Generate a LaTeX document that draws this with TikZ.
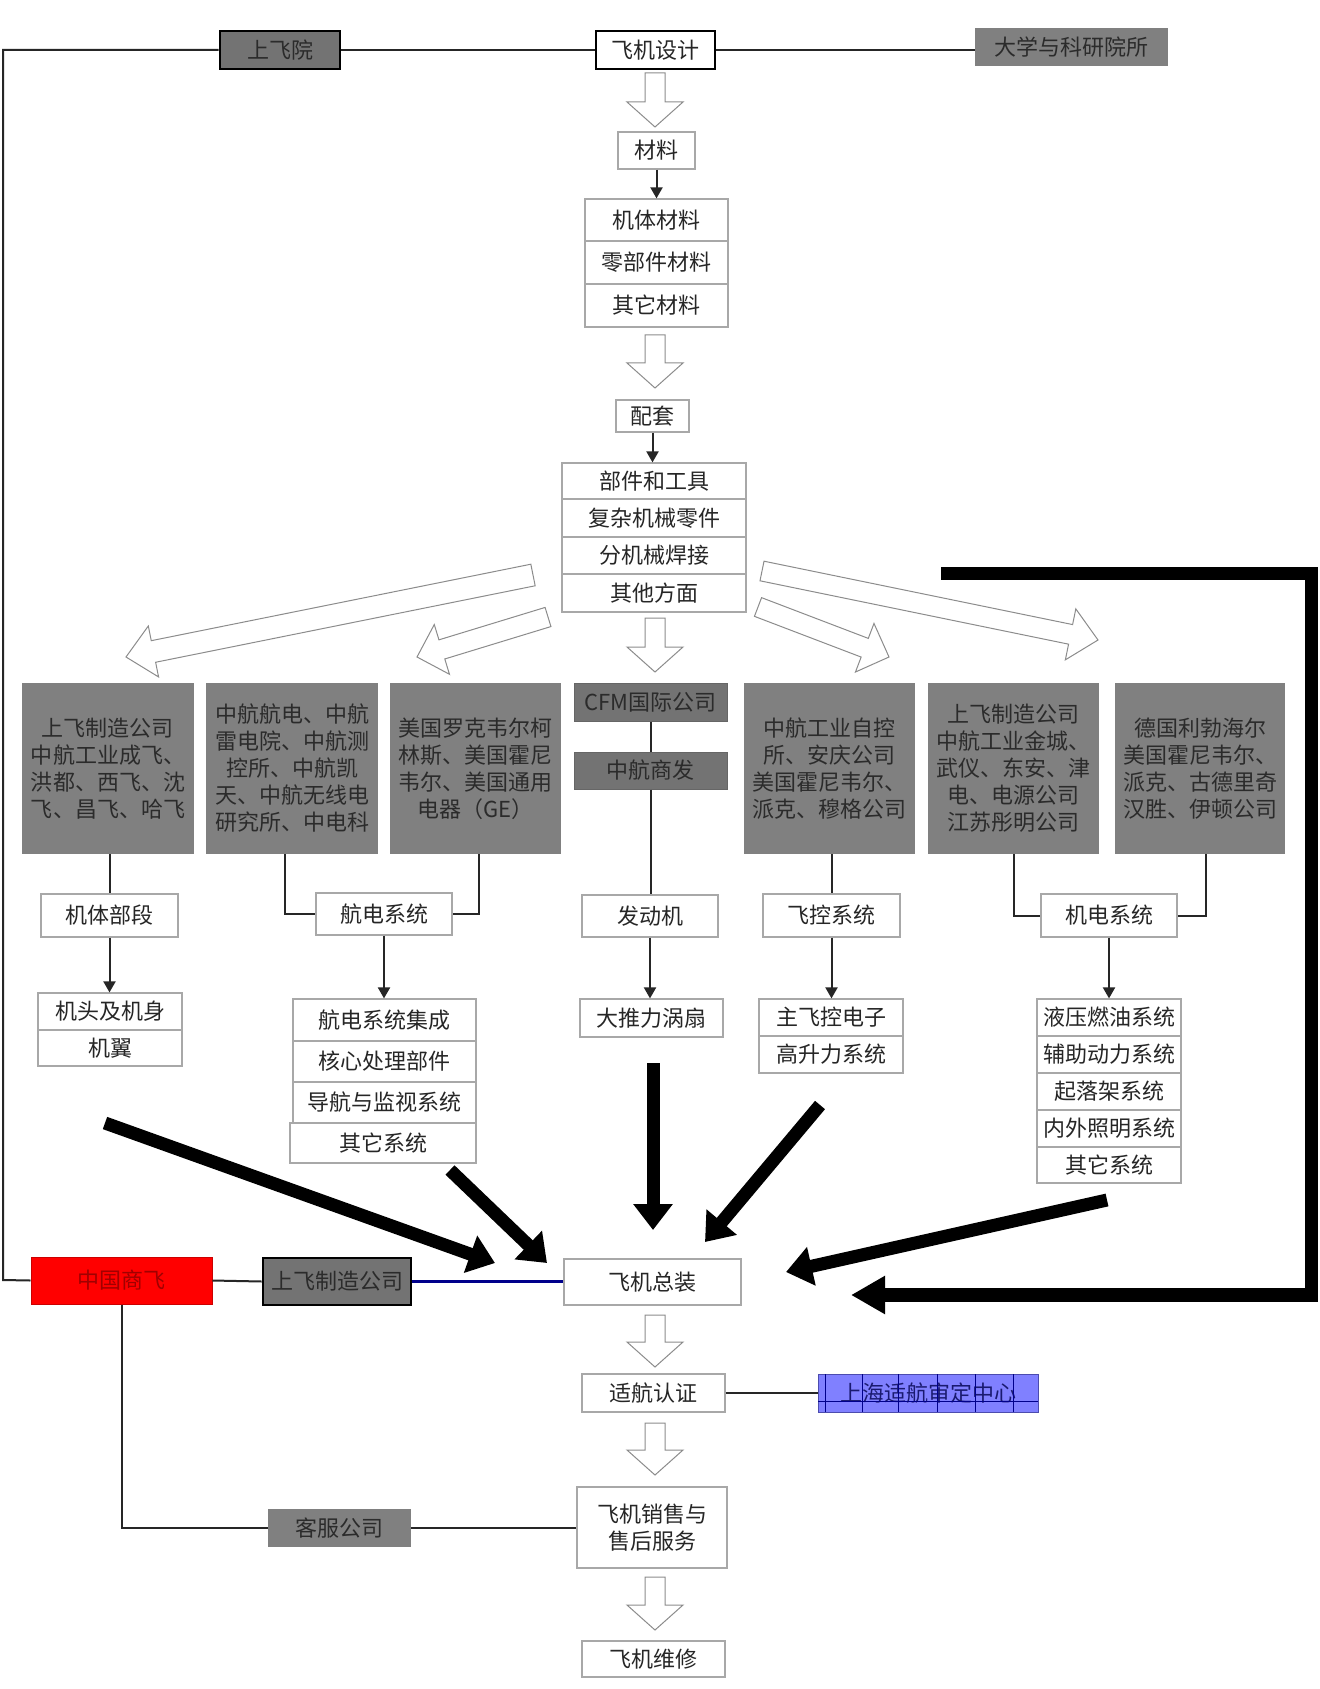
\documentclass[tikz,border=0pt]{standalone}
\usepackage{fontspec}
\setmainfont{Noto Sans CJK SC}
\usetikzlibrary{arrows.meta,calc}
\definecolor{lgray}{HTML}{A8A8A8}
\definecolor{txt}{HTML}{262626}
\definecolor{gfill}{HTML}{808080}
\definecolor{gtxt}{HTML}{2B2B2B}
\definecolor{dfill}{HTML}{737373}
\definecolor{rtxt}{HTML}{A00000}
\definecolor{bfill}{HTML}{8080FF}
\definecolor{btxt}{HTML}{1A1A70}
\definecolor{bline}{HTML}{00008B}
\newcommand\myfs{\fontsize{11pt}{13.5pt}\selectfont}
\newcommand\mybox[7]{%
  \pgfmathsetmacro\myw{(#4-#2)*0.5}%
  \pgfmathsetmacro\myh{(#5-#3)*0.5}%
  \node[#6, minimum width=\myw pt, minimum height=\myh pt] (#1) at ({(#2+#4)/2},{(#3+#5)/2}) {#7};}
\newcommand\myharr[5]{%
  \coordinate (hN) at ($(#2)!#5!(#1)$);
  \draw[hollow] ($(#1)!#3!90:(#2)$) -- ($(hN)!#3!90:(#2)$) -- ($(hN)!#4!90:(#2)$) -- (#2)
    -- ($(hN)!#4!-90:(#2)$) -- ($(hN)!#3!-90:(#2)$) -- ($(#1)!#3!-90:(#2)$) -- cycle;}
\begin{document}
\begin{tikzpicture}[x=0.5pt,y=-0.5pt,
  base/.style={inner sep=0pt, align=center, font=\myfs},
  wb/.style={base, draw=lgray, fill=white, line width=0.6pt, text=txt},
  db/.style={base, draw=black, fill=white, line width=1.3pt, text=txt},
  gb/.style={base, fill=gfill, text=gtxt},
  gbb/.style={base, fill=dfill, draw=black, line width=1.3pt, text=gtxt},
  gbc/.style={base, fill=dfill, draw=black!60, line width=0.5pt, text=gtxt},
  rb/.style={base, fill=red, draw=red!80!black, line width=0.5pt, text=rtxt},
  blb/.style={base, fill=bfill, draw=bline!70, line width=0.5pt, text=btxt},
  conn/.style={draw=black!85, line width=1pt},
  sarr/.style={conn, -{Triangle[width=6pt,length=5.5pt]}},
  hollow/.style={draw=black!45, fill=white, line width=0.5pt, line join=miter},
  thick arrow/.style={draw=black, line width=6.5pt, -{Triangle[width=19pt,length=13pt]}},
]
\useasboundingbox (0,0) rectangle (1320,1689);
\fill[white] (0,0) rectangle (1320,1689);

% ---------- top row ----------
\mybox{sfy}{220}{31}{340}{69}{gbb}{上飞院}
\mybox{fd}{596}{31}{715}{69}{db}{飞机设计}
\mybox{dx}{975}{28}{1168}{66}{gb}{大学与科研院所}

% ---------- materials ----------
\mybox{cl}{618}{132}{695}{169}{wb}{材料}
\mybox{m1}{585}{199}{728}{241}{wb}{机体材料}
\mybox{m2}{585}{241}{728}{284}{wb}{零部件材料}
\mybox{m3}{585}{284}{728}{327}{wb}{其它材料}

% ---------- peitao ----------
\mybox{pt}{616}{400}{689}{432}{wb}{配套}
\mybox{b1}{562}{463}{746}{499}{wb}{部件和工具}
\mybox{b2}{562}{499}{746}{537}{wb}{复杂机械零件}
\mybox{b3}{562}{537}{746}{574}{wb}{分机械焊接}
\mybox{b4}{562}{574}{746}{612}{wb}{其他方面}

% ---------- suppliers ----------
\mybox{g1}{22}{683}{194}{854}{gb}{上飞制造公司\\中航工业成飞、\\洪都、西飞、沈\\飞、昌飞、哈飞}
\mybox{g2}{206}{683}{378}{854}{gb}{中航航电、中航\\雷电院、中航测\\控所、中航凯\\天、中航无线电\\研究所、中电科}
\mybox{g3}{390}{683}{561}{854}{gb}{美国罗克韦尔柯\\林斯、美国霍尼\\韦尔、美国通用\\电器（GE）}
\mybox{cfm}{574}{683}{727}{721}{gbc}{CFM国际公司}
\mybox{zhsf}{574}{752}{727}{789}{gbc}{中航商发}
\mybox{g5}{744}{683}{915}{854}{gb}{中航工业自控\\所、安庆公司\\美国霍尼韦尔、\\派克、穆格公司}
\mybox{g6}{928}{683}{1099}{854}{gb}{上飞制造公司\\中航工业金城、\\武仪、东安、津\\电、电源公司\\江苏彤明公司}
\mybox{g7}{1115}{683}{1285}{854}{gb}{德国利勃海尔\\美国霍尼韦尔、\\派克、古德里奇\\汉胜、伊顿公司}

% ---------- systems ----------
\mybox{jt}{41}{894}{178}{937}{wb}{机体部段}
\mybox{hd}{316}{893}{452}{935}{wb}{航电系统}
\mybox{fdj}{582}{895}{718}{937}{wb}{发动机}
\mybox{fk}{763}{894}{900}{937}{wb}{飞控系统}
\mybox{jd}{1041}{894}{1177}{937}{wb}{机电系统}

\mybox{jj1}{38}{993}{182}{1030}{wb}{机头及机身}
\mybox{jj2}{38}{1030}{182}{1066}{wb}{机翼}

\mybox{h1}{293}{999}{476}{1041}{wb}{航电系统集成}
\mybox{h2}{293}{1041}{476}{1082}{wb}{核心处理部件}
\mybox{h3}{293}{1082}{476}{1123}{wb}{导航与监视系统}
\mybox{h4}{290}{1123}{476}{1163}{wb}{其它系统}

\mybox{dt}{580}{999}{723}{1037}{wb}{大推力涡扇}

\mybox{k1}{759}{999}{903}{1036}{wb}{主飞控电子}
\mybox{k2}{759}{1036}{903}{1073}{wb}{高升力系统}

\mybox{e1}{1037}{999}{1181}{1036}{wb}{液压燃油系统}
\mybox{e2}{1037}{1036}{1181}{1073}{wb}{辅助动力系统}
\mybox{e3}{1037}{1073}{1181}{1110}{wb}{起落架系统}
\mybox{e4}{1037}{1110}{1181}{1147}{wb}{内外照明系统}
\mybox{e5}{1037}{1147}{1181}{1183}{wb}{其它系统}

% ---------- assembly and after ----------
\mybox{zgsf}{31}{1257}{212}{1304}{rb}{中国商飞}
\mybox{sfzz}{263}{1258}{411}{1305}{gbb}{上飞制造公司}
\mybox{zz}{564}{1259}{741}{1305}{wb}{飞机总装}
\mybox{sh}{582}{1374}{725}{1412}{wb}{适航认证}
\mybox{shzx}{818}{1374}{1038}{1412}{blb}{上海适航审定中心}
\mybox{kf}{268}{1509}{411}{1547}{gb}{客服公司}
\mybox{xs}{577}{1487}{727}{1568}{wb}{飞机销售与\\售后服务}
\mybox{wx}{582}{1641}{725}{1677}{wb}{飞机维修}

% grid lines on blue box
\foreach \gx in {825,862,898,937,975,1013}
  \draw[bline, line width=0.5pt] (\gx,1374) -- (\gx,1412);
\draw[bline, line width=0.5pt] (818,1401) -- (1038,1401);

% ---------- thin connectors ----------
\coordinate (lc1) at (3,50);
\coordinate (lc2) at (3,1280);
\draw[conn] (sfy.west) -- (sfy.west -| lc1) -- (lc2) -- (zgsf.west);
\draw[conn] (sfy.east) -- (fd.west);
\draw[conn] (fd.east) -- (fd.east -| dx.west);
\draw[conn] (zgsf.east) -- (sfzz.west);
\draw[draw=bline, line width=1.6pt] (sfzz.east) -- (sfzz.east -| zz.west);
\coordinate (kc) at (122,1528);
\draw[conn] (kc |- zgsf.south) -- (kc) -- (kf.west);
\draw[conn] (kf.east) -- (kf.east -| xs.west);
\draw[conn] (sh.east) -- (sh.east -| shzx.west);

\draw[sarr] (cl.south) -- (cl.south |- m1.north);
\draw[sarr] (pt.south) -- (pt.south |- b1.north);

\draw[conn] (g1.south -| jt.north) -- (jt.north);
\draw[conn] ($(g2.south)+(-7,0)$) |- (hd.west);
\draw[conn] ($(g3.south)+(3,0)$) |- (hd.east);
\draw[conn] (cfm.south) -- (zhsf.north);
\draw[conn] (zhsf.south) -- (zhsf.south |- fdj.north);
\draw[conn] (g5.south -| fk.north) -- (fk.north);
\draw[conn] (g6.south) |- (jd.west);
\draw[conn] ($(g7.south)+(6,0)$) |- (jd.east);

\draw[sarr] (jt.south) -- (jt.south |- jj1.north);
\draw[sarr] (hd.south) -- (hd.south |- h1.north);
\draw[sarr] (fdj.south) -- (fdj.south |- dt.north);
\draw[sarr] (fk.south) -- (fk.south |- k1.north);
\draw[sarr] (jd.south) -- (jd.south |- e1.north);

% ---------- hollow arrows ----------
\coordinate (ha1) at (655,73);   \coordinate (hb1) at (655,127);
\coordinate (ha2) at (655,335);  \coordinate (hb2) at (655,388);
\coordinate (ha3) at (655,618);  \coordinate (hb3) at (655,672);
\coordinate (ha4) at (655,1315); \coordinate (hb4) at (655,1367);
\coordinate (ha5) at (655,1423); \coordinate (hb5) at (655,1475);
\coordinate (ha6) at (655,1577); \coordinate (hb6) at (655,1630);
\foreach \i in {1,...,6}{\myharr{ha\i}{hb\i}{5pt}{14pt}{12.5pt}}

\coordinate (da1) at (533,575); \coordinate (db1) at (126,657);
\coordinate (da2) at (548,617); \coordinate (db2) at (417,657);
\coordinate (da3) at (758,607); \coordinate (db3) at (889,657);
\coordinate (da4) at (762,571); \coordinate (db4) at (1098,640);
\myharr{da1}{db1}{5.5pt}{13pt}{14pt}
\myharr{da2}{db2}{5pt}{13pt}{13pt}
\myharr{da3}{db3}{5pt}{13pt}{13pt}
\myharr{da4}{db4}{5pt}{13pt}{14pt}

% ---------- thick arrows ----------
\coordinate (t1) at (105,1123); \coordinate (u1) at (495,1263);
\coordinate (t2) at (450,1170); \coordinate (u2) at (547,1263);
\coordinate (t3) at (653,1063); \coordinate (u3) at (653,1230);
\coordinate (t4) at (820,1105); \coordinate (u4) at (705,1242);
\coordinate (t5) at (1107,1200); \coordinate (u5) at (786,1272);
\draw[thick arrow] (t1) -- (u1);
\draw[thick arrow] (t2) -- (u2);
\draw[thick arrow] (t3) -- (u3);
\draw[thick arrow] (t4) -- (u4);
\draw[thick arrow] (t5) -- (u5);

\coordinate (L0) at (941,573.5);
\coordinate (L1) at (1311.5,573.5);
\coordinate (L2) at (1311.5,1295);
\coordinate (L3) at (851,1295);
\draw[draw=black, line width=6.8pt, line join=miter, -{Triangle[width=18pt,length=17pt]}]
  (L0) -- (L1) -- (L2) -- (L3);
\end{tikzpicture}
\end{document}
